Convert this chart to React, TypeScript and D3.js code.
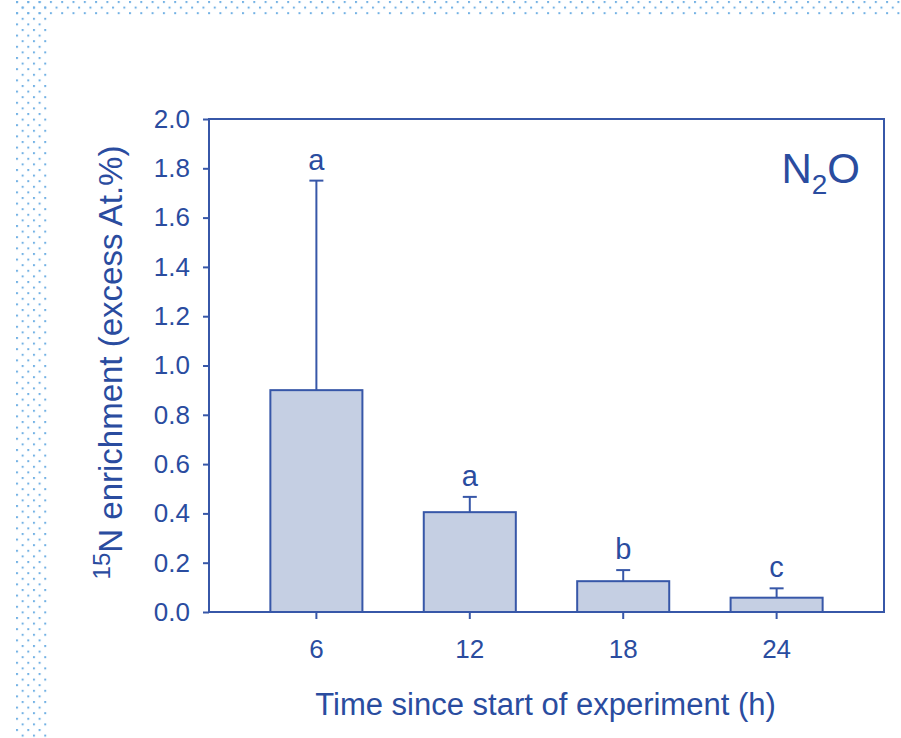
import * as d3 from 'd3';
import { useEffect, useRef } from 'react';

const times = ['6', '12', '18', '24'];
const means = [0.9, 0.405, 0.125, 0.058];
const upperErr = [1.75, 0.467, 0.17, 0.096];
const letters = ['a', 'a', 'b', 'c'];
const yTicks = [0, 0.2, 0.4, 0.6, 0.8, 1.0, 1.2, 1.4, 1.6, 1.8, 2.0];

const W = 901;
const H = 738;
const TEXT = '#2a4c9f';
const LINE = '#3757a8';
const FILL = '#c5cfe3';
const FONT = '"Liberation Sans", Arial, sans-serif';

export default function App() {
  const ref = useRef<SVGSVGElement>(null);

  useEffect(() => {
    drawChart();
  }, []);

  function drawChart() {
    const svg = d3.select(ref.current);
    svg.selectAll('*').remove();

    // dotted frame of the slide
    const defs = svg.append('defs');
    const pat = defs.append('pattern')
      .attr('id', 'dots')
      .attr('patternUnits', 'userSpaceOnUse')
      .attr('x', 16).attr('y', 1)
      .attr('width', 11.3).attr('height', 11.2);
    pat.append('rect').attr('x', 0).attr('y', 0).attr('width', 2).attr('height', 2).attr('fill', '#72b1e4');
    pat.append('rect').attr('x', 5.65).attr('y', 5.6).attr('width', 2).attr('height', 2).attr('fill', '#72b1e4');
    svg.append('rect').attr('x', 16).attr('y', 0).attr('width', W - 16).attr('height', 15).attr('fill', 'url(#dots)');
    svg.append('rect').attr('x', 16).attr('y', 0).attr('width', 32).attr('height', H).attr('fill', 'url(#dots)');

    const left = 209, right = 884, top = 119, bottom = 612;

    const x = d3.scaleBand<string>()
      .domain(times)
      .range([left, right])
      .paddingInner(0.4)
      .paddingOuter(0.4);

    const y = d3.scaleLinear()
      .domain([0, 2])
      .range([bottom, top]);

    // frame
    svg.append('rect')
      .attr('x', left).attr('y', top)
      .attr('width', right - left).attr('height', bottom - top)
      .attr('fill', 'none').attr('stroke', LINE).attr('stroke-width', 2);

    // bars
    svg.selectAll('rect.bar')
      .data(means)
      .enter()
      .append('rect')
      .attr('class', 'bar')
      .attr('x', (d, i) => x(times[i])!)
      .attr('y', d => y(d))
      .attr('width', x.bandwidth())
      .attr('height', d => bottom - y(d))
      .attr('fill', FILL)
      .attr('stroke', LINE)
      .attr('stroke-width', 2);

    // error bars (upper only)
    const cx = (i: number) => x(times[i])! + x.bandwidth() / 2;
    const eb = svg.append('g').attr('stroke', LINE).attr('stroke-width', 2);
    means.forEach((m, i) => {
      eb.append('line').attr('x1', cx(i)).attr('x2', cx(i)).attr('y1', y(m)).attr('y2', y(upperErr[i]));
      eb.append('line').attr('x1', cx(i) - 7).attr('x2', cx(i) + 7).attr('y1', y(upperErr[i])).attr('y2', y(upperErr[i]));
    });

    // significance letters
    svg.selectAll('text.letter')
      .data(letters)
      .enter()
      .append('text')
      .attr('class', 'letter')
      .attr('x', (d, i) => cx(i))
      .attr('y', (d, i) => y(upperErr[i]) - 11)
      .attr('text-anchor', 'middle')
      .attr('font-family', FONT)
      .attr('font-size', 29)
      .attr('fill', TEXT)
      .text(d => d);

    // y axis
    const yAxis = svg.append('g')
      .attr('transform', `translate(${left},0)`)
      .call(d3.axisLeft(y).tickValues(yTicks).tickFormat(d3.format('.1f')).tickSize(6).tickPadding(13));
    yAxis.select('.domain').remove();
    yAxis.selectAll('line').attr('stroke', LINE).attr('stroke-width', 2);
    yAxis.selectAll('text')
      .attr('font-family', FONT).attr('font-size', 26).attr('fill', TEXT);

    // x axis
    const xAxis = svg.append('g')
      .attr('transform', `translate(0,${bottom})`)
      .call(d3.axisBottom(x).tickSize(7).tickPadding(21));
    xAxis.select('.domain').remove();
    xAxis.selectAll('line').attr('stroke', LINE).attr('stroke-width', 2);
    xAxis.selectAll('text')
      .attr('font-family', FONT).attr('font-size', 26).attr('fill', TEXT);

    // axis titles
    svg.append('text')
      .attr('x', (left + right) / 2 - 1)
      .attr('y', 715)
      .attr('text-anchor', 'middle')
      .attr('font-family', FONT).attr('font-size', 31).attr('fill', TEXT)
      .text('Time since start of experiment (h)');

    const yt = svg.append('text')
      .attr('transform', `translate(122,${(top + bottom) / 2 - 3}) rotate(-90)`)
      .attr('text-anchor', 'middle')
      .attr('font-family', FONT).attr('font-size', 33).attr('fill', TEXT);
    yt.append('tspan').attr('font-size', 24).attr('dy', -12).text('15');
    yt.append('tspan').attr('dy', 12).text('N enrichment (excess At.%)');

    // gas label
    const g = svg.append('text')
      .attr('x', 860).attr('y', 183)
      .attr('text-anchor', 'end')
      .attr('font-family', FONT).attr('font-size', 42).attr('fill', TEXT);
    g.append('tspan').text('N');
    g.append('tspan').attr('font-size', 28).attr('dy', 11).text('2');
    g.append('tspan').attr('dy', -11).text('O');
  }

  return (
    <svg ref={ref} width={W} height={H}
      style={{ position: 'absolute', left: 0, top: 0, background: '#fff' }} />
  );
}
